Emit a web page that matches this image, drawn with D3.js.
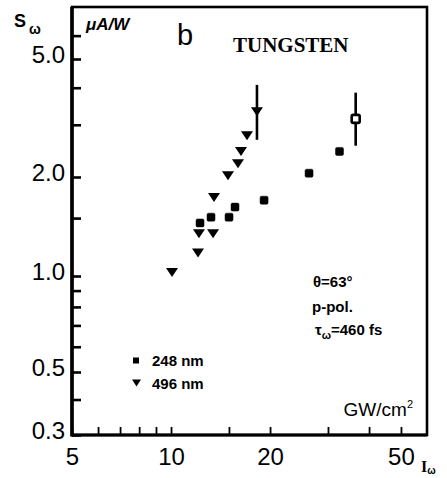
<!DOCTYPE html>
<html><head><meta charset="utf-8">
<script src="https://cdn.jsdelivr.net/npm/d3@7"></script>
<style>body{margin:0;background:#fff}svg{display:block}</style>
</head><body>
<svg id="c" width="447" height="478"></svg>
<script>
// ---- data ----
const intensity248 = [12.25, 13.23, 15.01, 15.65, 19.18, 26.28, 32.52, 36.42];
const signal248    = [1.45, 1.51, 1.51, 1.62, 1.70, 2.06, 2.44, 3.14];
const errLow248    = [null, null, null, null, null, null, null, 2.55];
const errHigh248   = [null, null, null, null, null, null, null, 3.85];

const intensity496 = [10.07, 12.08, 12.16, 13.42, 13.51, 14.90, 15.98, 16.32, 17.02, 18.25];
const signal496    = [1.03, 1.18, 1.35, 1.35, 1.74, 2.03, 2.23, 2.45, 2.77, 3.34];
const errLow496    = [null, null, null, null, null, null, null, null, null, 2.67];
const errHigh496   = [null, null, null, null, null, null, null, null, null, 4.09];

const xMajorTicks = [5, 10, 20, 50];
const xMajorLabels = ["5", "10", "20", "50"];
const xMinorTicks = [6, 7, 8, 9, 15, 30, 40];
const yMajorTicks = [0.3, 0.5, 1, 2, 5];
const yMajorLabels = ["0.3", "0.5", "1.0", "2.0", "5.0"];
const yMinorTicks = [0.4, 0.6, 0.7, 0.8, 0.9, 1.5, 3, 4, 6];

const legendLabels = ["248 nm", "496 nm"];

// ---- layout ----
const svg = d3.select("#c");
const L = 72, R = 427, T = 7, B = 435;
const x = d3.scaleLog().domain([5, 60]).range([L, R]);
// hand-drawn log axis of the original, calibrated on its labelled ticks
const y = d3.scaleLog().domain([0.3, 0.5, 1, 2, 5, 7.5]).range([B, 372, 276, 177, 59, T]);

const sans = "'Liberation Sans', Arial, sans-serif";
const serif = "'Liberation Serif', 'Times New Roman', serif";

// y axis
const yAxis = d3.axisLeft(y)
  .tickValues(yMajorTicks.concat(yMinorTicks))
  .tickSizeInner(-9).tickSizeOuter(0).tickPadding(7)
  .tickFormat(d => { const i = yMajorTicks.indexOf(d); return i >= 0 ? yMajorLabels[i] : ""; });
const gy = svg.append("g").attr("transform", `translate(${L},0)`).call(yAxis);
gy.select(".domain").remove();
gy.selectAll(".tick line").attr("stroke", "#000").attr("stroke-width", 2.6);
gy.selectAll(".tick text").attr("font-family", sans).attr("font-size", 24)
  .attr("fill", "#000").attr("dy", "0.15em");

// x axis
const xAxis = d3.axisBottom(x)
  .tickValues(xMajorTicks.concat(xMinorTicks))
  .tickSizeInner(-8).tickSizeOuter(0).tickPadding(13)
  .tickFormat(d => { const i = xMajorTicks.indexOf(d); return i >= 0 ? xMajorLabels[i] : ""; });
const gx = svg.append("g").attr("transform", `translate(0,${B})`).call(xAxis);
gx.select(".domain").remove();
gx.selectAll(".tick line").attr("stroke", "#000").attr("stroke-width", 1.8);
gx.selectAll(".tick text").attr("font-family", sans).attr("font-size", 24).attr("fill", "#000");

// frame
svg.append("rect").attr("x", L).attr("y", T).attr("width", R - L).attr("height", B - T)
  .attr("fill", "none").attr("stroke", "#000").attr("stroke-width", 2.6);
svg.append("line").attr("x1", L).attr("x2", L).attr("y1", T).attr("y2", B + 1.5)
  .attr("stroke", "#000").attr("stroke-width", 3.6);
svg.append("line").attr("x1", L).attr("x2", R).attr("y1", B).attr("y2", B)
  .attr("stroke", "#000").attr("stroke-width", 3.2);

// error bars
function errBars(xs, lo, hi) {
  xs.forEach((v, i) => {
    if (lo[i] == null) return;
    svg.append("line").attr("x1", x(v)).attr("x2", x(v))
      .attr("y1", y(hi[i])).attr("y2", y(lo[i]))
      .attr("stroke", "#000").attr("stroke-width", 2.6);
  });
}
errBars(intensity248, errLow248, errHigh248);
errBars(intensity496, errLow496, errHigh496);

// squares (248 nm)
const sq = 8;
svg.append("g").selectAll("rect").data(intensity248.map((v, i) => [v, signal248[i], errLow248[i] != null]))
  .join("rect")
  .attr("x", d => x(d[0]) - sq / 2).attr("y", d => y(d[1]) - sq / 2)
  .attr("width", sq).attr("height", sq).attr("rx", 1.5)
  .attr("fill", d => d[2] ? "#fff" : "#000")
  .attr("stroke", "#000").attr("stroke-width", d => d[2] ? 2.6 : 0.5);

// triangles (496 nm)
function tri(cx, cy, w, h) {
  return `M${cx - w / 2},${cy - h * 0.42}L${cx + w / 2},${cy - h * 0.42}L${cx},${cy + h * 0.58}Z`;
}
svg.append("g").selectAll("path").data(intensity496.map((v, i) => [v, signal496[i]]))
  .join("path")
  .attr("d", d => tri(x(d[0]), y(d[1]), 12, 9))
  .attr("fill", "#000");

// legend
svg.append("rect").attr("x", 133).attr("y", 357.5).attr("width", 6).attr("height", 6).attr("fill", "#000");
svg.append("path").attr("d", tri(136.5, 382.5, 9, 7)).attr("fill", "#000");
svg.append("text").attr("x", 152).attr("y", 366).text(legendLabels[0])
  .attr("font-family", sans).attr("font-weight", "bold").attr("font-size", 15);
svg.append("text").attr("x", 152).attr("y", 389).text(legendLabels[1])
  .attr("font-family", sans).attr("font-weight", "bold").attr("font-size", 15);

// annotation texts
const ann = svg.append("g").attr("font-family", sans).attr("font-weight", "bold").attr("font-size", 15);
ann.append("text").attr("x", 313).attr("y", 287).text("θ=63°");
ann.append("text").attr("x", 312).attr("y", 312).text("p-pol.");
const tau = ann.append("text").attr("x", 315).attr("y", 335);
tau.append("tspan").text("τ");
tau.append("tspan").attr("font-size", 11).attr("dy", 4).text("ω");
tau.append("tspan").attr("dy", -4).text("=460 fs");

// titles
svg.append("text").attr("x", 177).attr("y", 45).text("b")
  .attr("font-family", sans).attr("font-size", 29);
svg.append("text").attr("x", 233).attr("y", 52).text("TUNGSTEN")
  .attr("font-family", serif).attr("font-weight", "bold").attr("font-size", 21);
svg.append("text").attr("x", 86).attr("y", 30).text("μA/W")
  .attr("font-family", sans).attr("font-style", "italic").attr("font-weight", "bold").attr("font-size", 17);

// y axis title S_ω
const sLab = svg.append("text").attr("x", 14).attr("y", 27)
  .attr("font-family", sans).attr("font-weight", "bold").attr("font-size", 18);
sLab.append("tspan").text("S");
sLab.append("tspan").attr("font-size", 14).attr("dx", 3).attr("dy", 7).text("ω");

// x axis unit and title
const unit = svg.append("text").attr("x", 413).attr("y", 416).attr("text-anchor", "end")
  .attr("font-family", sans).attr("font-size", 19);
unit.append("tspan").text("GW/cm");
unit.append("tspan").attr("font-size", 11).attr("dy", -8).text("2");
const iLab = svg.append("text").attr("x", 421).attr("y", 472)
  .attr("font-family", serif).attr("font-weight", "bold").attr("font-size", 16);
iLab.append("tspan").text("I");
iLab.append("tspan").attr("font-family", sans).attr("font-weight", "bold").attr("font-size", 10).attr("dy", 2).text("ω");
</script>
</body></html>
